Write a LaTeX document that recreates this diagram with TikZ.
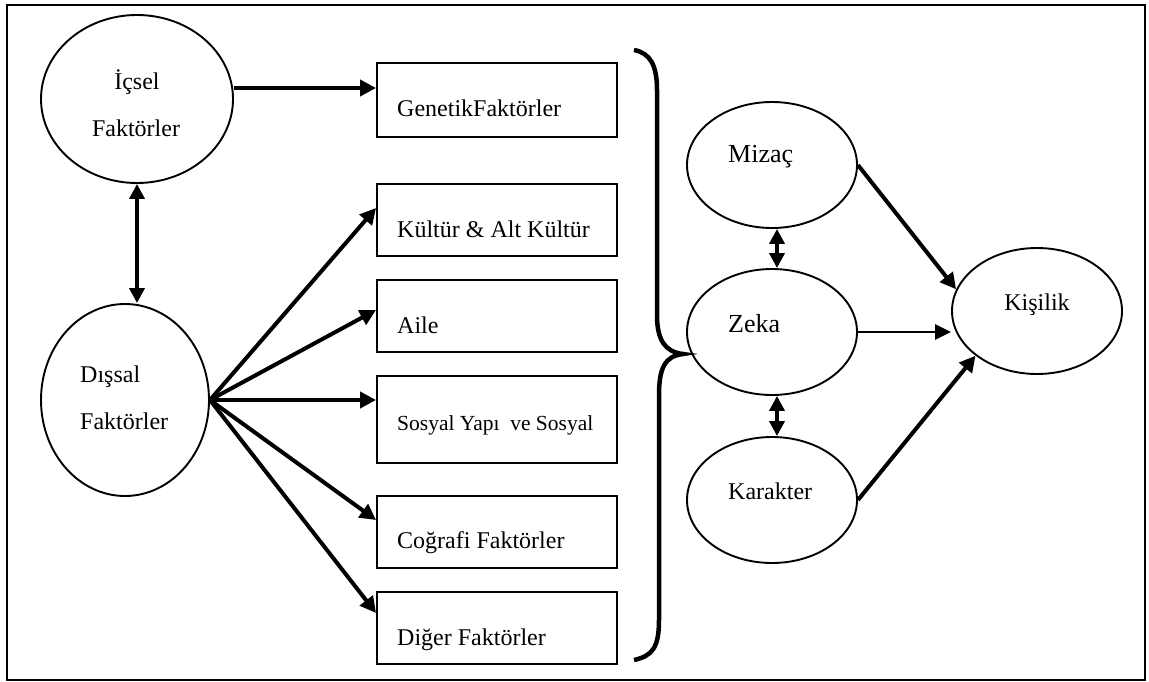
\documentclass[tikz,border=0pt]{standalone}
\usepackage{fontspec}
\setmainfont{Liberation Serif}
\usetikzlibrary{arrows.meta,shapes.geometric,calc}
\begin{document}
\begin{tikzpicture}[x=1pt,y=-1pt,
  oval/.style={draw,ellipse,line width=1.9pt,inner sep=0pt},
  factor/.style={draw,rectangle,line width=1.9pt,minimum width=240pt,inner sep=0pt},
  txt/.style={font=\fontsize{24}{28}\selectfont,inner sep=0pt},
  smalltxt/.style={font=\fontsize{21.5}{26}\selectfont,inner sep=0pt},
  bigtxt/.style={font=\fontsize{26}{30}\selectfont,inner sep=0pt},
  link/.style={line width=4pt,-{Triangle[length=16pt,width=16pt]}},
  thinlink/.style={line width=2.6pt,-{Triangle[length=16pt,width=15pt]}},
  both/.style={line width=4pt,{Triangle[length=15pt,width=15pt]}-{Triangle[length=15pt,width=15pt]}},
]
% page and outer frame
\useasboundingbox (0,0) rectangle (1149,682);
\draw[line width=2.4pt] (7,5) rectangle (1145,680);

% inner and outer factor groups
\node[oval,minimum width=192pt,minimum height=168pt] (icsel) at (137,99) {};
\node[txt,anchor=base] (icsel-a) at (137,90) {İçsel};
\node[txt,anchor=base] (icsel-b) at (136,137) {Faktörler};

\node[oval,minimum width=168pt,minimum height=192pt] (dis) at (125,400) {};
\node[txt,anchor=base west] (dis-a) at (80,382) {Dışsal};
\node[txt,anchor=base west] (dis-b) at (80,429) {Faktörler};

% factor boxes
\node[factor,minimum height=74pt] (genetik) at (497,100) {};
\node[factor,minimum height=72pt] (kultur) at (497,220) {};
\node[factor,minimum height=72pt] (aile) at (497,316) {};
\node[factor,minimum height=87pt] (sosyal) at (497,419.5) {};
\node[factor,minimum height=72pt] (cografi) at (497,532) {};
\node[factor,minimum height=72pt] (diger) at (497,628) {};

\node[txt,anchor=base west] (genetik-t) at (397,117) {GenetikFaktörler};
\node[txt,anchor=base west] (kultur-t) at (397,237) {Kültür \& Alt Kültür};
\node[txt,anchor=base west] (aile-t) at (397,333) {Aile};
\node[smalltxt,anchor=base west] (sosyal-t) at (397,430) {Sosyal Yapı\ \ ve Sosyal};
\node[txt,anchor=base west] (cografi-t) at (397,548) {Coğrafi Faktörler};
\node[txt,anchor=base west] (diger-t) at (397,645) {Diğer Faktörler};

% grouping brace
\draw[line width=4.5pt] (634,50) .. controls (650,53) and (657,65) .. (657,90)
  -- (657,315) .. controls (657,340) and (665,352) .. (683,354)
  .. controls (665,356) and (659,368) .. (659,395)
  -- (659,620) .. controls (659,648) and (652,656) .. (634,660);

% personality components
\node[oval,minimum width=170pt,minimum height=126pt] (mizac) at (772,165) {};
\node[bigtxt,anchor=base west] (mizac-t) at (728,163) {Mizaç};
\node[oval,minimum width=170pt,minimum height=126pt] (zeka) at (772,332) {};
\node[bigtxt,anchor=base west] (zeka-t) at (728,332) {Zeka};
\node[oval,minimum width=170pt,minimum height=126pt] (karakter) at (772,500) {};
\node[txt,anchor=base west] (karakter-t) at (728,499) {Karakter};
\node[oval,minimum width=170pt,minimum height=126pt] (kisilik) at (1037,311) {};
\node[txt,anchor=base] (kisilik-t) at (1037,310) {Kişilik};

% connectors on the left
\draw[link] ([yshift=11pt]icsel.east) -- ([yshift=12pt]genetik.west);
\draw[both] (icsel.south) -- (icsel.south |- dis.north);
\draw[link] (dis.east) -- ([yshift=12pt]kultur.west);
\draw[link] (dis.east) -- ([yshift=6pt]aile.west);
\draw[link] (dis.east) -- ([yshift=19.5pt]sosyal.west);
\draw[link] (dis.east) -- ([yshift=12pt]cografi.west);
\draw[link] (dis.east) -- ([yshift=15pt]diger.west);

% connectors on the right
\draw[both] ([xshift=5pt]mizac.south) -- ([xshift=5pt]zeka.north);
\draw[both] ([xshift=5pt]zeka.south) -- ([xshift=5pt]karakter.north);
\draw[link] (mizac.east) -- (kisilik.165);
\draw[thinlink] (zeka.east) -- (zeka.east -| kisilik.west);
\draw[link] (karakter.east) -- (kisilik.216);
\end{tikzpicture}
\end{document}
